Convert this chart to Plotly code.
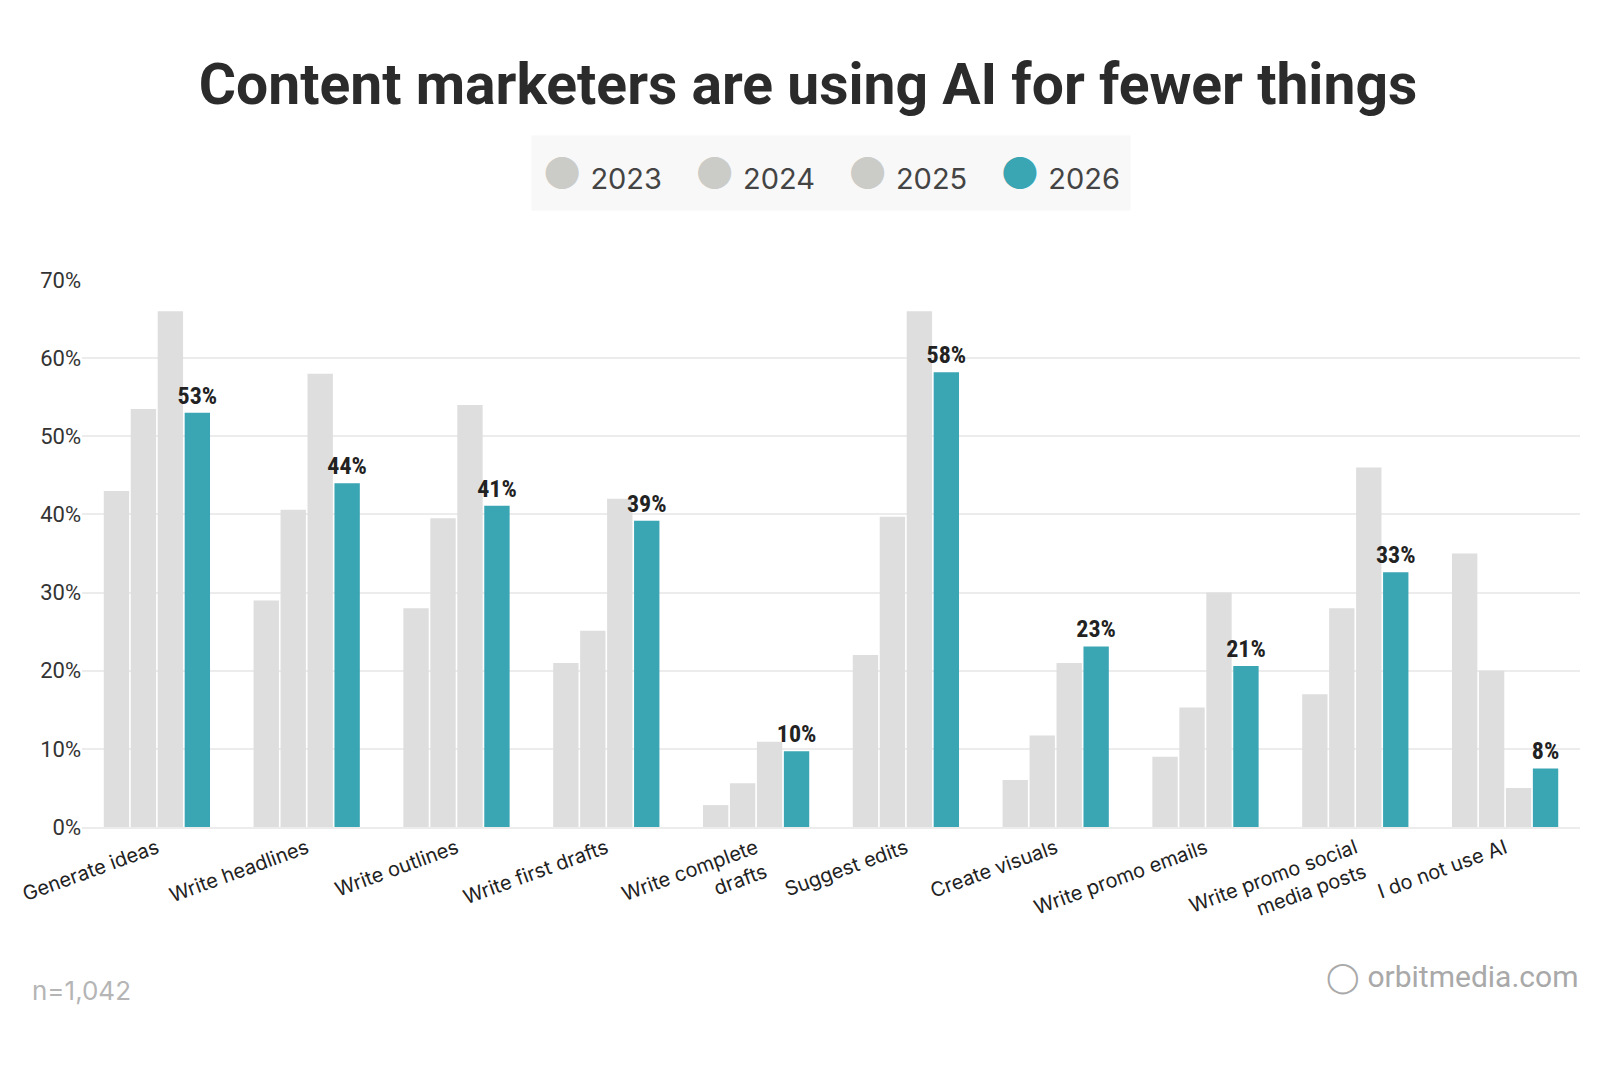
import plotly.graph_objects as go

CATEGORIES = [
    "Generate ideas", "Write headlines", "Write outlines", "Write first drafts",
    "Write complete<br>drafts", "Suggest edits", "Create visuals",
    "Write promo emails", "Write promo social<br>media posts", "I do not use AI",
]
YEARS = ["2023", "2024", "2025", "2026"]
V2023 = [43, 29, 28, 21, 2.8, 22, 6, 9, 17, 35]
V2024 = [53.5, 40.6, 39.5, 25.1, 5.6, 39.7, 11.7, 15.3, 28, 20]
V2025 = [66, 58, 54, 42, 10.9, 66, 21, 30, 46, 5]
V2026 = [53, 44, 41.1, 39.2, 9.7, 58.2, 23.1, 20.6, 32.6, 7.5]
LABELS_2026 = ["53%", "44%", "41%", "39%", "10%", "58%", "23%", "21%", "33%", "8%"]

GREY = "#dedede"
TEAL = "#3aa5b3"
LEGEND_GREY = "#cbcbc7"

fig = go.Figure()
for vals in (V2023, V2024, V2025):
    fig.add_trace(go.Bar(x=CATEGORIES, y=vals, marker_color=GREY, showlegend=False,
                         marker_line_width=0))
fig.add_trace(go.Bar(
    x=CATEGORIES, y=V2026, marker_color=TEAL, showlegend=False, marker_line_width=0,
    text=LABELS_2026, textposition="outside", cliponaxis=False, constraintext="none",
    textfont=dict(family="Roboto Condensed, Roboto", size=24, color="#222222", weight="bold"),
))

# legend as one text block with coloured dots
legend_parts = []
for year, col in zip(YEARS, [LEGEND_GREY, LEGEND_GREY, LEGEND_GREY, TEAL]):
    legend_parts.append(
        f"<span style='color:{col};font-size:44px'>●</span>&nbsp;{year}")
fig.add_annotation(
    text="&nbsp;&nbsp;&nbsp;&nbsp;".join(legend_parts),
    xref="paper", yref="paper", x=0.5, y=1.195, xanchor="center", yanchor="middle",
    showarrow=False, bgcolor="#f8f8f8", borderpad=10,
    font=dict(family="Inter", size=29, color="#444444"),
)

fig.add_annotation(text="n=1,042", xref="paper", yref="paper", x=-0.035, y=-0.33,
                   xanchor="left", showarrow=False,
                   font=dict(family="Inter", size=26, color="#b5b5b5"))
fig.add_annotation(text="◯ orbitmedia.com", xref="paper", yref="paper", x=1.0, y=-0.31,
                   xanchor="right", showarrow=False,
                   font=dict(family="Roboto", size=30, color="#a9a9a9"))

fig.update_layout(
    width=1600, height=1072,
    paper_bgcolor="white", plot_bgcolor="white",
    margin=dict(l=68, r=28, t=272, b=253),
    title=dict(text="<b>Content marketers are using AI for fewer things</b>",
               x=0.5, y=0.948, xanchor="center",
               font=dict(family="Roboto", size=57, color="#2b2b2b")),
    barmode="group", bargap=0.28, bargroupgap=0.06,
    showlegend=False,
)
fig.update_yaxes(range=[0, 70], dtick=10, ticksuffix="%", showgrid=True,
                 gridcolor="#ececec", gridwidth=2, zeroline=False,
                 tickfont=dict(family="Roboto", size=22, color="#333333"))
fig.update_xaxes(tickangle=-20, showline=True, linecolor="#ececec", linewidth=2,
                 tickfont=dict(family="Inter", size=20, color="#222222"))

fig.write_html("out.html")
